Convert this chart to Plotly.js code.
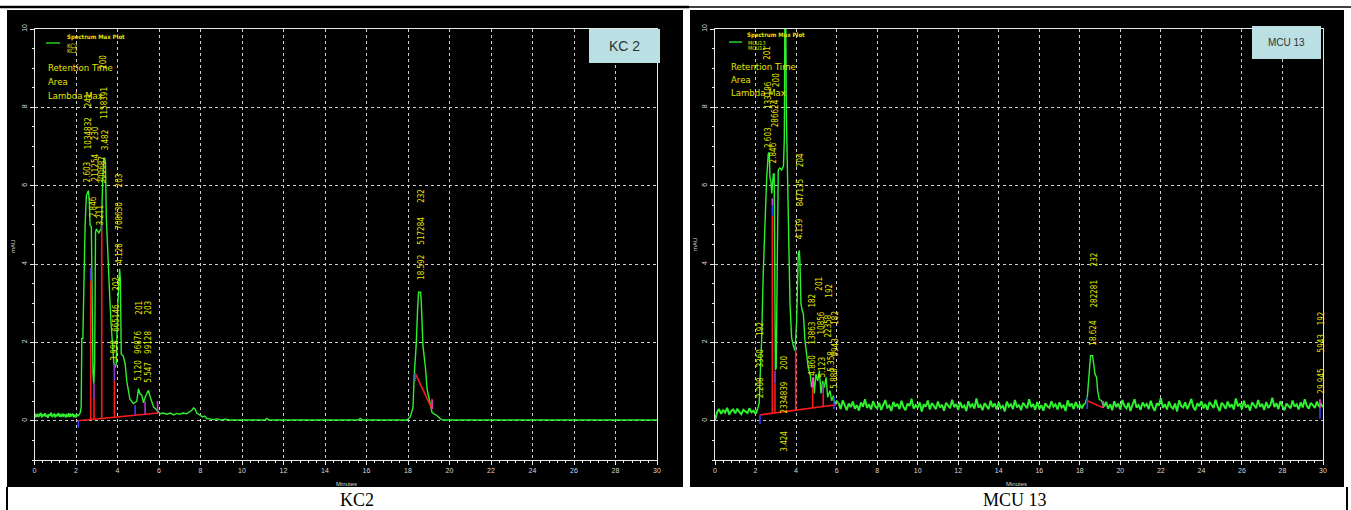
<!DOCTYPE html>
<html><head><meta charset="utf-8">
<script src="https://cdn.plot.ly/plotly-3.0.1.min.js"></script>
<style>html,body{margin:0;padding:0;background:#fff;}#chart{width:1351px;height:510px;}</style>
</head><body><div id="chart"></div>
<script>
// ---------------- DATA ----------------
// KC2 chromatogram (minutes, mAU)
var kc2NoiseStart = 0, kc2NoiseStep = 0.05;
var kc2Noise = [0.08,0.15,0.12,0.18,0.10,0.14,0.20,0.09,0.16,0.12,0.19,0.11,0.15,0.08,0.17,0.13,0.21,0.10,0.14,0.18,0.09,0.16,0.12,0.20,0.11,0.15,0.10,0.18,0.13,0.17,0.09,0.15,0.12,0.19,0.10,0.16,0.13,0.18,0.11,0.14,0.09,0.16,0.12];
var kc2T = [2.1,2.14,2.2,2.25,2.28,2.33,2.38,2.44,2.5,2.56,2.6,2.64,2.68,2.74,2.78,2.82,2.86,2.9,2.94,2.98,3.04,3.1,3.16,3.22,3.28,3.34,3.38,3.42,3.46,3.52,3.58,3.64,3.7,3.76,3.82,3.88,3.94,4.0,4.06,4.1,4.14,4.18,4.28,4.37,4.45,4.6,4.77,4.93,5.01,5.09,5.17,5.25,5.33,5.41,5.49,5.57,5.65,5.74,5.9,6.06,
  6.2,6.38,6.55,6.7,6.85,7.0,7.15,7.33,7.45,7.58,7.66,7.74,7.82,7.9,7.98,8.1,8.2,8.3,8.45,8.62,8.8,9.0,9.2,9.4,9.6,11.1,11.2,11.3,15.6,15.7,15.8,17.95,18.11,18.24,18.3,18.4,18.47,18.51,18.61,18.64,18.72,18.84,18.92,19.05,19.16,19.4,19.56,19.7,30];
var kc2V = [0.12,0.15,0.2,0.35,2.1,2.1,3.5,5.0,5.75,5.85,5.88,5.6,5.0,4.95,3.0,1.2,0.95,1.5,4.8,4.9,4.85,4.8,4.86,4.9,6.0,6.7,6.7,6.6,5.2,4.3,3.5,3.0,2.4,1.9,1.5,1.36,1.45,2.8,3.75,3.88,3.6,1.7,1.65,1.45,1.0,0.55,0.44,0.5,0.82,0.68,0.66,0.46,0.6,0.7,0.78,0.62,0.46,0.35,0.27,0.18,
  0.2,0.17,0.2,0.15,0.19,0.17,0.2,0.18,0.22,0.27,0.33,0.3,0.2,0.17,0.14,0.1,0.12,0.06,0.05,0.03,0.05,0.02,0.04,0.02,0.02,0.02,0.06,0.02,0.02,0.06,0.02,0.02,0.1,0.34,1.15,2.0,2.94,3.28,3.28,3.03,1.92,1.36,0.81,0.51,0.21,0.13,0.05,0.02,0.02];
// integration baselines and peak drop lines (KC2)
var kc2BaseT = [[2.08,5.97],[18.35,19.16]];
var kc2BaseV = [[0.0,0.2],[1.21,0.3]];
var kc2DropT  = [2.71,2.87,3.24,3.85];
var kc2DropLo = [0.03,0.04,0.06,0.09];
var kc2DropHi = [3.58,0.56,4.86,1.02];
var kc2MarkT  = [2.71,2.87,3.24,3.85,4.85,5.33,5.93,2.11,18.35,19.16];
var kc2MarkLo = [3.58,0.56,4.86,1.02,0.15,0.17,0.2,0.0,1.21,0.3];
var kc2MarkHi = [3.9,0.95,5.0,1.46,0.4,0.5,0.5,-0.17,1.02,0.55];
var kc2LabelText = ["241","1034832","2.603","230","211254","2.846","200","1158391","3.482","300687","3.211","203","708630","4.128","202","665146","3.990","201","96876","5.120","203","99128","5.547","232","517284","18.592"];

// MCU 13 chromatogram
var mcuSeg1Start = 0, mcuSeg1Step = 0.1;
var mcuSeg1 = [0.00,0.22,0.30,0.18,0.27,0.21,0.33,0.16,0.25,0.29,0.19,0.31,0.23,0.17,0.28,0.24,0.20,0.32,0.22,0.26,0.18,0.30];
var mcuPeakT = [2.1,2.18,2.22,2.3,2.38,2.47,2.55,2.63,2.68,2.71,2.76,2.8,2.84,2.88,2.92,2.95,2.98,3.02,3.06,3.12,3.2,3.29,3.38,3.42,3.45,3.49,3.52,3.56,3.62,3.67,3.7,3.78,3.86,3.95,4.03,4.11,4.16,4.19,4.24,4.3,4.36,4.44,4.52,4.6,4.69,4.77,4.85,4.9,4.98,5.07,5.15,5.23,5.31,5.39,5.48,5.56,5.67,5.76,5.84,5.92,6.0,6.1];
var mcuPeakV = [0.30,0.45,1.02,2.05,3.76,5.3,6.2,6.82,6.85,6.22,6.1,5.8,6.0,6.3,6.3,3.0,1.3,1.35,3.5,6.4,6.45,6.4,6.5,7.2,10.5,10.5,7.85,6.8,5.1,4.26,3.0,2.13,1.92,1.79,2.56,4.26,4.35,4.09,2.99,2.82,2.73,2.05,1.71,1.36,1.19,0.85,1.11,0.7,1.19,1.02,1.28,0.7,1.02,0.85,1.11,0.6,0.77,0.51,0.64,0.43,0.51,0.45];
var mcuSeg2Start = 6.1, mcuSeg2Step = 0.1;
var mcuSeg2 = [0.45,0.30,0.52,0.38,0.27,0.44,0.35,0.49,0.31,0.40,
0.26,0.47,0.36,0.55,0.33,0.42,0.29,0.50,0.37,0.32,
0.46,0.28,0.41,0.53,0.34,0.39,0.25,0.48,0.36,0.43,
0.30,0.51,0.35,0.27,0.44,0.38,0.56,0.31,0.40,0.33,
0.47,0.24,0.42,0.36,0.52,0.29,0.45,0.37,0.30,0.49,
0.34,0.41,0.26,0.46,0.38,0.32,0.54,0.35,0.43,0.28,
0.48,0.33,0.39,0.25,0.50,0.36,0.42,0.31,0.57,0.34,
0.40,0.27,0.45,0.37,0.30,0.51,0.35,0.44,0.29,0.47,
0.33,0.38,0.24,0.49,0.36,0.42,0.30,0.53,0.34,0.41,
0.27,0.46,0.38,0.32,0.55,0.35,0.43,0.28,0.48,0.31,
0.40,0.26,0.45,0.37,0.33,0.50,0.36,0.42,0.29,0.47,
0.34,0.39,0.25,0.52,0.37,0.44,0.30,0.48,0.35,0.41,
0.32,0.43];
var mcuPeak2T = [18.2,18.25,18.37,18.42,18.47,18.53,18.63,18.68,18.75,18.83,18.88,18.96,19.08,19.16,19.2];
var mcuPeak2V = [0.43,0.43,0.6,0.94,1.37,1.66,1.66,1.49,1.19,1.11,0.77,0.55,0.51,0.38,0.36];
var mcuSeg3Start = 19.2, mcuSeg3Step = 0.1;
var mcuSeg3 = [0.36,0.48,0.31,0.42,0.27,0.50,0.35,0.44,0.29,0.53,
0.38,0.32,0.46,0.25,0.41,0.55,0.34,0.40,0.28,0.47,
0.37,0.43,0.30,0.51,0.35,0.26,0.45,0.39,0.58,0.33,
0.42,0.29,0.49,0.36,0.31,0.44,0.24,0.52,0.38,0.34,
0.47,0.30,0.41,0.56,0.35,0.27,0.45,0.37,0.50,0.32,
0.43,0.28,0.48,0.39,0.33,0.54,0.36,0.25,0.46,0.40,
0.31,0.49,0.35,0.42,0.29,0.57,0.37,0.44,0.30,0.51,
0.34,0.41,0.26,0.47,0.38,0.32,0.53,0.36,0.43,0.28,
0.48,0.33,0.40,0.59,0.35,0.45,0.30,0.50,0.37,0.27,
0.44,0.39,0.32,0.52,0.36,0.42,0.29,0.47,0.34,0.55,
0.38,0.31,0.46,0.40,0.33,0.49,0.36,0.43,0.35];
var mcuBaseT = [[2.22,6.0],[18.37,19.16]];
var mcuBaseV = [[0.15,0.41],[0.51,0.33]];
var mcuDropT  = [2.83,2.96,3.98,4.82,5.34];
var mcuDropLo = [0.19,0.2,0.27,0.33,0.36];
var mcuDropHi = [5.24,0.95,1.79,0.85,0.7];
var mcuMarkT  = [2.83,2.83,2.96,3.98,4.82,5.34,5.87,2.22,18.37,19.16,29.85,29.85];
var mcuMarkLo = [5.24,5.5,0.95,1.79,0.85,0.7,0.3,0.15,0.3,0.33,0.33,0.33];
var mcuMarkHi = [5.5,5.68,1.28,1.92,1.11,0.95,0.6,-0.08,0.6,0.5,0.05,0.55];
var mcuLabelText = ["201","133196","2.603","200","286624","2.846","204","847135","4.139","192","3360","2.208","200","2334839","3.424","182","13863","4.860","201","10856","5.123","192","22358","5.358","182","9943","5.888","232","282281","18.624","192","5943","29.945"];

var xTickVals = [0,2,4,6,8,10,12,14,16,18,20,22,24,26,28,30];
var yTickVals = [0,2,4,6,8,10];

// ---------------- LAYOUT / STYLE ----------------
var W = 1351, H = 510;
function PX(px){ return px / W; }
function PY(py){ return 1 - py / H; }
var GREEN = '#2ef02e', RED = '#ff1a1a', YEL = '#e4e400';
var kc2MarkColor = ['#5b3bd6','#9b3bc6','#9b3bc6','#8a3bd0','#3a3aff','#a23bd0','#e03be0','#3a3aff','#3a3aff','#ff3bc8'];
var mcuMarkColor = ['#3a3aff','#d03be0','#9b3bc6','#9b3bc6','#ff3bc8','#9b3bc6','#3a3aff','#3a3aff','#3a3aff','#ff3bc8','#3a3aff','#ff3bc8'];
// label anchor positions (data coords) for the rotated peak labels
var kc2LabelPos = [[2.58,8.18],[2.58,7.34],[2.53,6.34],[2.92,7.34],[2.92,6.47],[2.82,5.45],[3.35,9.16],[3.35,8.11],[3.40,7.16],[3.26,6.39],[3.16,5.24],[4.08,6.14],[4.08,5.24],[4.08,4.27],[3.98,3.50],[3.98,2.63],[3.88,1.79],[5.04,2.89],[5.04,1.99],[5.04,1.28],[5.52,2.89],[5.52,1.99],[5.52,1.23],[18.64,5.75],[18.64,4.86],[18.64,3.91]];
var mcuLabelPos = [[2.61,9.39],[2.61,8.31],[2.61,7.24],[3.06,8.70],[2.96,7.85],[2.86,6.85],[4.19,6.65],[4.19,5.83],[4.19,4.91],[2.27,2.35],[2.27,1.59],[2.27,0.84],[3.45,1.48],[3.45,0.59],[3.45,-0.51],[4.79,3.07],[4.79,2.23],[4.79,1.41],[5.18,3.50],[5.23,2.51],[5.33,1.36],[5.67,3.32],[5.62,2.43],[5.77,1.53],[5.97,2.63],[5.97,1.87],[5.92,1.10],[18.70,4.12],[18.70,3.25],[18.70,2.25],[29.94,2.61],[29.94,1.97],[29.94,1.02]];

var traces = [];
function addLine(xa, ya, x, y, color, width){
  traces.push({type:'scatter', mode:'lines', x:x, y:y, xaxis:xa, yaxis:ya, showlegend:false, hoverinfo:'skip',
    line:{color:color, width:width||1.4}});
}
function addUniform(xa, ya, x0, dx, y, width){
  traces.push({type:'scatter', mode:'lines', x0:x0, dx:dx, y:y, xaxis:xa, yaxis:ya, showlegend:false, hoverinfo:'skip',
    line:{color:GREEN, width:width||1.6}});
}
function addSegments(xa, ya, xs, lo, hi, color, width){
  var x = [], y = [];
  for (var i = 0; i < xs.length; i++){ x.push(xs[i], xs[i], null); y.push(lo[i], hi[i], null); }
  addLine(xa, ya, x, y, color, width);
}
// KC2 panel
addUniform('x','y',kc2NoiseStart,kc2NoiseStep,kc2Noise,1.8);
addLine('x','y',kc2T,kc2V,GREEN);
kc2BaseT.forEach(function(t,i){ addLine('x','y',t,kc2BaseV[i],RED,1.6); });
addSegments('x','y',kc2DropT,kc2DropLo,kc2DropHi,RED,1.6);
kc2MarkT.forEach(function(t,i){ addLine('x','y',[t,t],[kc2MarkLo[i],kc2MarkHi[i]],kc2MarkColor[i],1.6); });
// MCU 13 panel
addUniform('x2','y2',mcuSeg1Start,mcuSeg1Step,mcuSeg1,2);
addLine('x2','y2',mcuPeakT,mcuPeakV,GREEN);
addUniform('x2','y2',mcuSeg2Start,mcuSeg2Step,mcuSeg2,2);
addLine('x2','y2',mcuPeak2T,mcuPeak2V,GREEN);
addUniform('x2','y2',mcuSeg3Start,mcuSeg3Step,mcuSeg3,2);
mcuBaseT.forEach(function(t,i){ addLine('x2','y2',t,mcuBaseV[i],RED,1.6); });
addSegments('x2','y2',mcuDropT,mcuDropLo,mcuDropHi,RED,1.6);
mcuMarkT.forEach(function(t,i){ addLine('x2','y2',[t,t],[mcuMarkLo[i],mcuMarkHi[i]],mcuMarkColor[i],1.6); });

var TICKFONT = {family:'Liberation Sans, Arial, sans-serif', size:7, color:'#d8d8d8'};
function xAxis(domain, anchor){
  return {domain:domain, anchor:anchor, range:[0,30], tickmode:'array', tickvals:xTickVals, tickfont:TICKFONT,
    ticks:'outside', ticklen:4, tickcolor:'#e8e8e8', showline:true, linecolor:'#e8e8e8', linewidth:1, mirror:true,
    showgrid:true, gridcolor:'#cfcfcf', griddash:'dot', gridwidth:1, zeroline:false, fixedrange:true,
    minor:{dtick:0.4, ticks:'outside', ticklen:2, tickcolor:'#e8e8e8', showgrid:false}};
}
function yAxis(domain, anchor){
  return {domain:domain, anchor:anchor, range:[-1,10], tickmode:'array', tickvals:yTickVals, tickfont:TICKFONT, tickangle:-90,
    ticks:'outside', ticklen:4, tickcolor:'#e8e8e8', showline:true, linecolor:'#e8e8e8', linewidth:1, mirror:true,
    showgrid:true, gridcolor:'#cfcfcf', griddash:'dot', gridwidth:1, zeroline:false, fixedrange:true,
    minor:{dtick:0.5, ticks:'outside', ticklen:2, tickcolor:'#e8e8e8', showgrid:false}};
}
var yDom = [PY(460), PY(29)];

var shapes = [
  {type:'rect', xref:'paper', yref:'paper', x0:PX(7), x1:PX(683), y0:PY(487), y1:PY(10), fillcolor:'#000', line:{width:0}, layer:'below'},
  {type:'rect', xref:'paper', yref:'paper', x0:PX(690), x1:PX(1344), y0:PY(487), y1:PY(10), fillcolor:'#000', line:{width:0}, layer:'below'},
  {type:'line', xref:'paper', yref:'paper', x0:PX(0), x1:PX(689), y0:PY(7), y1:PY(7), line:{color:'#000', width:2.5}},
  {type:'line', xref:'paper', yref:'paper', x0:PX(689), x1:PX(1351), y0:PY(7), y1:PY(7), line:{color:'#000', width:1.5}},
  {type:'line', xref:'paper', yref:'paper', x0:PX(7), x1:PX(7), y0:PY(487), y1:PY(510), line:{color:'#000', width:2}},
  {type:'line', xref:'paper', yref:'paper', x0:PX(1347), x1:PX(1347), y0:PY(487), y1:PY(510), line:{color:'#000', width:2}},
  // sample label boxes
  {type:'rect', xref:'paper', yref:'paper', x0:PX(589), x1:PX(660), y0:PY(63), y1:PY(29), fillcolor:'#bae0e3', line:{width:0}, layer:'above'},
  {type:'rect', xref:'paper', yref:'paper', x0:PX(1252), x1:PX(1321), y0:PY(59), y1:PY(26), fillcolor:'#bae0e3', line:{width:0}, layer:'above'},
  // legend line samples
  {type:'line', xref:'paper', yref:'paper', x0:PX(46), x1:PX(60), y0:PY(43), y1:PY(43), line:{color:GREEN, width:1.3}},
  {type:'line', xref:'paper', yref:'paper', x0:PX(729), x1:PX(742), y0:PY(42), y1:PY(42), line:{color:GREEN, width:1.3}}
];

var NARROW = 'Liberation Sans Narrow, DejaVu Sans Condensed, Liberation Sans, Arial, sans-serif';
var annotations = [];
function paperText(px, py, text, size, color, anchor, family, angle){
  annotations.push({xref:'paper', yref:'paper', x:PX(px), y:PY(py), text:text, showarrow:false,
    xanchor:anchor||'center', yanchor:'middle', textangle:angle||0,
    font:{family:family||NARROW, size:size, color:color}});
}
function peakLabels(texts, pos, xr, yr){
  texts.forEach(function(t,i){
    annotations.push({xref:xr, yref:yr, x:pos[i][0], y:pos[i][1], text:t, showarrow:false, textangle:-90,
      xanchor:'center', yanchor:'middle', font:{family:NARROW, size:8, color:YEL}});
  });
}
peakLabels(kc2LabelText, kc2LabelPos, 'x', 'y');
peakLabels(mcuLabelText, mcuLabelPos, 'x2', 'y2');

// legend-like header texts
paperText(65, 37, '<b>Spectrum Max Plot</b>', 6, YEL, 'left');
paperText(65, 45, 'KC2', 6, YEL, 'left');
paperText(65, 51, 'KC2', 6, YEL, 'left');
paperText(46, 68, 'Retention Time', 9.5, YEL, 'left');
paperText(46, 81, 'Area', 9.5, YEL, 'left');
paperText(46, 95, 'Lambda Max', 9.5, YEL, 'left');
paperText(745, 35, '<b>Spectrum Max Plot</b>', 6, YEL, 'left');
paperText(746, 43, 'MCU13', 5.5, YEL, 'left');
paperText(746, 48, 'MCU13', 5.5, YEL, 'left');
paperText(729, 67, 'Retention Time', 9.5, YEL, 'left');
paperText(729, 79, 'Area', 9.5, YEL, 'left');
paperText(729, 92, 'Lambda Max', 9.5, YEL, 'left');
// box labels
paperText(624.5, 46, 'KC 2', 14, '#333', 'center', 'Liberation Sans, Arial, sans-serif');
paperText(1286.5, 42.5, 'MCU 13', 10, '#333', 'center', 'Liberation Sans, Arial, sans-serif');
// axis titles
paperText(13, 247, 'mAU', 6, '#d8d8d8', 'center', 'Liberation Sans, Arial, sans-serif', -90);
paperText(695, 245, 'mAU', 6, '#d8d8d8', 'center', 'Liberation Sans, Arial, sans-serif', -90);
paperText(346, 484, 'Minutes', 6, '#d8d8d8', 'center', 'Liberation Sans, Arial, sans-serif');
paperText(1016, 484, 'Minutes', 6, '#d8d8d8', 'center', 'Liberation Sans, Arial, sans-serif');
// captions
paperText(357, 500, 'KC2', 18, '#000', 'center', 'Liberation Serif, Times New Roman, serif');
paperText(1015, 500, 'MCU 13', 18, '#000', 'center', 'Liberation Serif, Times New Roman, serif');

var layout = {
  width: W, height: H, margin:{l:0,r:0,t:0,b:0},
  paper_bgcolor:'#ffffff', plot_bgcolor:'#000000', showlegend:false,
  xaxis: xAxis([PX(34.5), PX(657)], 'y'),
  yaxis: yAxis(yDom, 'x'),
  xaxis2: xAxis([PX(715), PX(1323)], 'y2'),
  yaxis2: yAxis(yDom, 'x2'),
  shapes: shapes, annotations: annotations
};
Plotly.newPlot('chart', traces, layout, {staticPlot:true, displayModeBar:false});
</script></body></html>
